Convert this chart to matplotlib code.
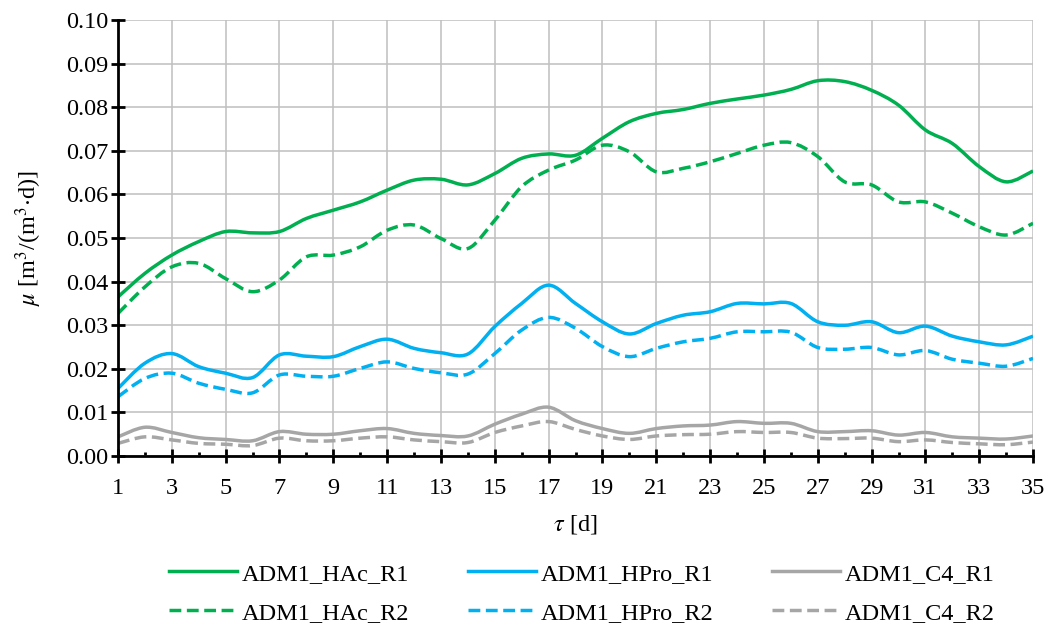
import matplotlib
matplotlib.use('Agg')
import matplotlib.pyplot as plt
from matplotlib.ticker import MultipleLocator, FormatStrFormatter
from matplotlib.path import Path
from matplotlib.patches import PathPatch
from matplotlib.lines import Line2D

days = list(range(1, 36))

hac_r1 = [0.0365, 0.0419, 0.0461, 0.0492, 0.0515, 0.0512, 0.0515, 0.0545, 0.0564, 0.0583,
          0.0610, 0.0633, 0.0635, 0.0622, 0.0648, 0.0683, 0.0693, 0.0690, 0.0729, 0.0767,
          0.0786, 0.0795, 0.0809, 0.0819, 0.0828, 0.0841, 0.0861, 0.0859, 0.0839, 0.0805,
          0.0748, 0.0717, 0.0664, 0.0629, 0.0654]
hac_r2 = [0.0327, 0.0388, 0.0434, 0.0442, 0.0407, 0.0377, 0.0404, 0.0457, 0.0461, 0.0480,
          0.0518, 0.0530, 0.0499, 0.0476, 0.0541, 0.0618, 0.0656, 0.0679, 0.0713, 0.0698,
          0.0652, 0.0660, 0.0675, 0.0694, 0.0713, 0.0719, 0.0687, 0.0629, 0.0622, 0.0583,
          0.0583, 0.0557, 0.0526, 0.0507, 0.0534]
hpro_r1 = [0.0155, 0.0213, 0.0235, 0.0205, 0.0190, 0.0180, 0.0232, 0.0229, 0.0228, 0.0251,
           0.0268, 0.0247, 0.0237, 0.0234, 0.0297, 0.0350, 0.0392, 0.0350, 0.0308, 0.0280,
           0.0304, 0.0323, 0.0331, 0.0350, 0.0349, 0.0350, 0.0308, 0.0300, 0.0308, 0.0283,
           0.0298, 0.0275, 0.0262, 0.0255, 0.0275]
hpro_r2 = [0.0136, 0.0178, 0.0190, 0.0167, 0.0153, 0.0145, 0.0186, 0.0183, 0.0183, 0.0201,
           0.0216, 0.0201, 0.0191, 0.0188, 0.0235, 0.0289, 0.0318, 0.0293, 0.0251, 0.0228,
           0.0247, 0.0262, 0.0270, 0.0285, 0.0285, 0.0284, 0.0249, 0.0245, 0.0249, 0.0232,
           0.0242, 0.0222, 0.0213, 0.0206, 0.0224]
c4_r1 = [0.0044, 0.0066, 0.0054, 0.0042, 0.0038, 0.0035, 0.0056, 0.0050, 0.0050, 0.0058,
         0.0063, 0.0052, 0.0047, 0.0046, 0.0073, 0.0096, 0.0112, 0.0081, 0.0063, 0.0052,
         0.0063, 0.0069, 0.0071, 0.0079, 0.0075, 0.0075, 0.0056, 0.0056, 0.0058, 0.0048,
         0.0054, 0.0044, 0.0041, 0.0039, 0.0046]
c4_r2 = [0.0029, 0.0044, 0.0037, 0.0029, 0.0027, 0.0024, 0.0041, 0.0035, 0.0035, 0.0041,
         0.0044, 0.0037, 0.0033, 0.0031, 0.0054, 0.0069, 0.0079, 0.0061, 0.0046, 0.0038,
         0.0046, 0.0049, 0.0050, 0.0056, 0.0054, 0.0054, 0.0041, 0.0040, 0.0041, 0.0033,
         0.0037, 0.0031, 0.0028, 0.0026, 0.0032]

xtick_vals = list(range(1, 36, 2))

green = '#00b050'
blue = '#00b0f0'
gray = '#a6a6a6'


def smooth_path(x, y):
    # Excel-like smoothed line: cubic bezier segments through the data points
    n = len(x)
    verts = [(x[0], y[0])]
    codes = [Path.MOVETO]
    for i in range(n - 1):
        xa, ya = (x[i - 1], y[i - 1]) if i > 0 else (x[i], y[i])
        xb, yb = (x[i + 2], y[i + 2]) if i + 2 < n else (x[i + 1], y[i + 1])
        c1 = (x[i] + (x[i + 1] - xa) / 6, y[i] + (y[i + 1] - ya) / 6)
        c2 = (x[i + 1] - (xb - x[i]) / 6, y[i + 1] - (yb - y[i]) / 6)
        verts += [c1, c2, (x[i + 1], y[i + 1])]
        codes += [Path.CURVE4] * 3
    return Path(verts, codes)


plt.rcParams['font.family'] = ['Liberation Serif', 'DejaVu Serif']
plt.rcParams['mathtext.fontset'] = 'stix'
plt.rcParams['font.size'] = 17

fig = plt.figure(figsize=(10.47, 6.29), dpi=100)
ax = fig.add_axes([0.1127, 0.275, 0.874, 0.693])

lw = 2.5
dash = (0, (3.4, 1.6))
series = [
    (hac_r1, green, '-', 'ADM1_HAc_R1'),
    (hac_r2, green, dash, 'ADM1_HAc_R2'),
    (hpro_r1, blue, '-', 'ADM1_HPro_R1'),
    (hpro_r2, blue, dash, 'ADM1_HPro_R2'),
    (c4_r1, gray, '-', 'ADM1_C4_R1'),
    (c4_r2, gray, dash, 'ADM1_C4_R2'),
]
handles = []
for vals, col, ls, lab in series:
    p = PathPatch(smooth_path(days, vals), facecolor='none', edgecolor=col,
                  linewidth=lw, linestyle=ls, joinstyle='round', zorder=3)
    ax.add_patch(p)
    handles.append(Line2D([], [], color=col, linewidth=lw, linestyle=ls, label=lab))

ax.set_xlim(1, 35)
ax.set_ylim(0, 0.10)
ax.set_xticks(xtick_vals)
ax.xaxis.set_minor_locator(MultipleLocator(1))
ax.yaxis.set_major_locator(MultipleLocator(0.01))
ax.yaxis.set_major_formatter(FormatStrFormatter('%.2f'))

ax.grid(True, which='major', color='#bfbfbf', linewidth=1.1, zorder=0)
ax.set_axisbelow(True)
for s in ['top', 'right']:
    ax.spines[s].set_visible(False)
for s in ['left', 'bottom']:
    ax.spines[s].set_linewidth(2)
    ax.spines[s].set_zorder(4)

ax.tick_params(axis='both', which='major', direction='inout', length=10, width=2, labelsize=17.5)
ax.tick_params(axis='x', which='major', pad=11)
ax.tick_params(axis='y', which='major', pad=2)
ax.tick_params(axis='x', which='minor', direction='in', length=3, width=2)

ax.set_xlabel(r'$\tau$ [d]', fontsize=17.5, labelpad=10)
ax.set_ylabel(r'$\mu$ [m$^3$/(m$^3$$\cdot$d)]', fontsize=17.5, labelpad=16)

fig.legend(handles=handles, loc='center', bbox_to_anchor=(0.556, 0.057), ncol=3,
           frameon=False, fontsize=17.5, handlelength=2.8, columnspacing=2.4,
           handletextpad=0.2, labelspacing=0.7)

fig.savefig('out.png', dpi=100)
